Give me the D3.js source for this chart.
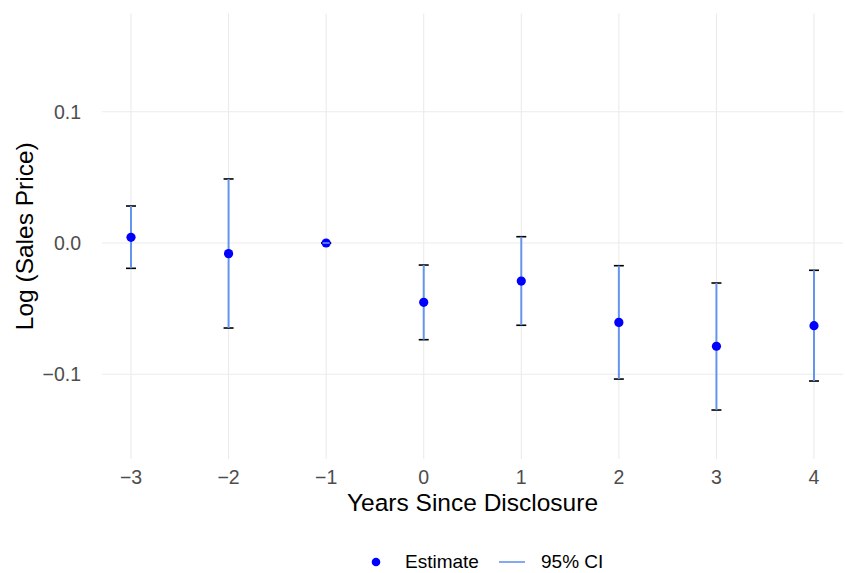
<!DOCTYPE html>
<html><head><meta charset="utf-8">
<script src="https://cdn.jsdelivr.net/npm/d3@7"></script>
<style>body{margin:0;background:#fff;} text{font-family:"Liberation Sans",Arial,sans-serif;}</style>
</head><body>
<svg id="chart" width="845" height="573"></svg>
<script>
const years = [-3, -2, -1, 0, 1, 2, 3, 4];
const estimate = [0.0043, -0.0081, 0.0, -0.0452, -0.0290, -0.0605, -0.0787, -0.0630];
const ciUpper = [0.0282, 0.0488, 0.0, -0.0168, 0.0048, -0.0173, -0.0305, -0.0208];
const ciLower = [-0.0193, -0.0648, 0.0, -0.0737, -0.0627, -0.1037, -0.1273, -0.1052];
const yTicks = [-0.1, 0.0, 0.1];
const xTicks = [-3, -2, -1, 0, 1, 2, 3, 4];
const legendLabels = ["Estimate", "95% CI"];

const svg = d3.select("#chart");
const panel = {left: 102, right: 843, top: 13.5, bottom: 459};
const step = (814 - 131) / 7;
const x = d3.scaleLinear()
  .domain([-3 - (131 - panel.left) / step, 4 + (panel.right - 814) / step])
  .range([panel.left, panel.right]);
const pxPerUnit = 1312;
const y = d3.scaleLinear()
  .domain([-(panel.bottom - 243) / pxPerUnit, (243 - panel.top) / pxPerUnit])
  .range([panel.bottom, panel.top]);

const grid = svg.append("g");
grid.selectAll("line.v").data(xTicks).join("line")
  .attr("x1", d => x(d)).attr("x2", d => x(d))
  .attr("y1", panel.top).attr("y2", panel.bottom)
  .attr("stroke", "#EBEBEB").attr("stroke-width", 1.1);
grid.selectAll("line.h").data(yTicks).join("line")
  .attr("x1", panel.left).attr("x2", panel.right)
  .attr("y1", d => y(d)).attr("y2", d => y(d))
  .attr("stroke", "#EBEBEB").attr("stroke-width", 1.1);

const fmtY = d => (d < 0 ? "\u2212" : "") + Math.abs(d).toFixed(1);
const fmtX = d => (d < 0 ? "\u2212" : "") + Math.abs(d);

svg.append("g").selectAll("text").data(yTicks).join("text")
  .attr("x", 81).attr("y", d => y(d)).attr("dy", "0.35em")
  .attr("text-anchor", "end").attr("fill", "#4D4D4D").attr("font-size", 19.5)
  .text(fmtY);
svg.append("g").selectAll("text").data(xTicks).join("text")
  .attr("x", d => x(d)).attr("y", 484)
  .attr("text-anchor", "middle").attr("fill", "#4D4D4D").attr("font-size", 19.5)
  .text(fmtX);

svg.append("text").attr("x", (panel.left + panel.right) / 2).attr("y", 511)
  .attr("text-anchor", "middle").attr("font-size", 24.5).attr("fill", "#000")
  .text("Years Since Disclosure");
svg.append("text").attr("transform", `translate(33,${(panel.top + panel.bottom) / 2}) rotate(-90)`)
  .attr("text-anchor", "middle").attr("font-size", 24.5).attr("fill", "#000")
  .text("Log (Sales Price)");

const data = years.map((yr, i) => ({yr, est: estimate[i], lo: ciLower[i], hi: ciUpper[i]}));
const marks = svg.append("g");
const capW = 5;
["lo", "hi"].forEach(k => {
  marks.selectAll("line.cap" + k).data(data).join("line")
    .attr("x1", d => x(d.yr) - capW).attr("x2", d => x(d.yr) + capW)
    .attr("y1", d => y(d[k])).attr("y2", d => y(d[k]))
    .attr("stroke", "#000").attr("stroke-width", 1.6);
});
marks.selectAll("line.ci").data(data).join("line")
  .attr("x1", d => x(d.yr)).attr("x2", d => x(d.yr))
  .attr("y1", d => y(d.lo)).attr("y2", d => y(d.hi))
  .attr("stroke", "#6495ED").attr("stroke-width", 2);
marks.selectAll("circle").data(data).join("circle")
  .attr("cx", d => x(d.yr)).attr("cy", d => y(d.est)).attr("r", 4.6)
  .attr("fill", "#0000FF");
marks.selectAll("line.zero").data(data.filter(d => d.hi === d.lo)).join("line")
  .attr("x1", d => x(d.yr) - 3.5).attr("x2", d => x(d.yr) + 3.5)
  .attr("y1", d => y(d.hi)).attr("y2", d => y(d.hi))
  .attr("stroke", "#6495ED").attr("stroke-width", 1.6);

const lg = svg.append("g");
const ly = 561;
lg.append("circle").attr("cx", 376).attr("cy", ly + 1).attr("r", 4.3).attr("fill", "#0000FF");
lg.append("text").attr("x", 405).attr("y", ly).attr("dy", "0.35em")
  .attr("font-size", 19).attr("fill", "#000").text(legendLabels[0]);
lg.append("line").attr("x1", 499).attr("x2", 525).attr("y1", ly + 1).attr("y2", ly + 1)
  .attr("stroke", "#6495ED").attr("stroke-width", 1.6);
lg.append("text").attr("x", 541).attr("y", ly).attr("dy", "0.35em")
  .attr("font-size", 19).attr("fill", "#000").text(legendLabels[1]);
</script>
</body></html>
